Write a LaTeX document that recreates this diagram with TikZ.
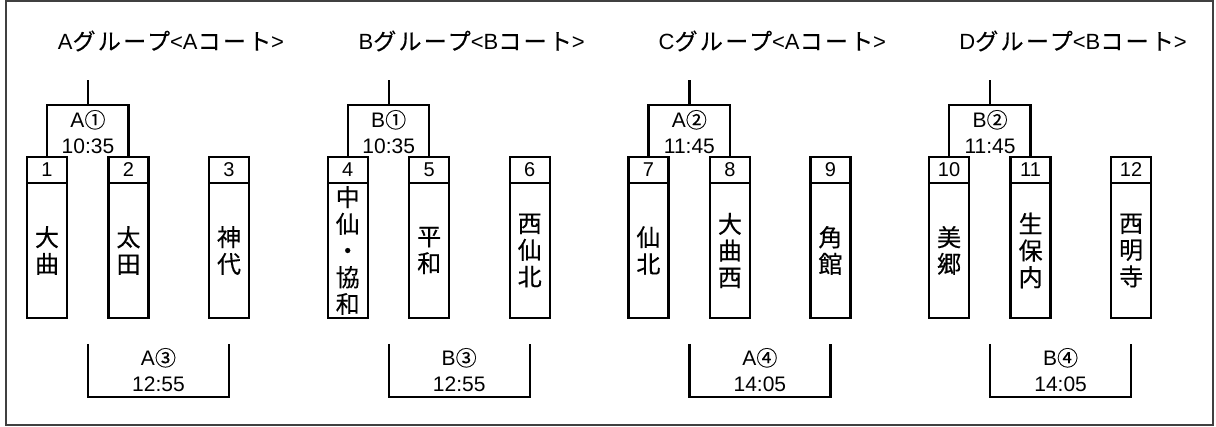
\documentclass[tikz,border=0pt]{standalone}
\usepackage{fontspec}
\setmainfont{Liberation Sans}
\newfontfamily\jp[FakeBold=0.3]{Noto Sans CJK JP}
\newfontfamily\jpwide[FakeBold=0.3,LetterSpace=10]{Noto Sans CJK JP}
\usetikzlibrary{positioning}

\tikzset{
	frame/.style={draw=black!75, line width=1.5pt},
	bracket/.style={line width=2.3pt},
	numbox/.style={draw, line width=2.3pt, outer sep=0pt, inner sep=0pt,
		minimum width=40pt, minimum height=26pt, font=\fontsize{20}{20}\selectfont},
	namebox/.style={draw, line width=2.3pt, outer sep=0pt, inner sep=0pt,
		minimum width=40pt, minimum height=135pt, align=center,
		font=\jp\fontsize{24}{26.7}\selectfont},
	matchlabel/.style={align=center, inner sep=0pt, font=\fontsize{21}{26}\selectfont},
	grouptitle/.style={inner sep=0pt, font=\fontsize{22}{24}\selectfont}
}
\newcommand{\kana}[1]{{\jpwide\fontsize{23}{24}\selectfont #1}}
\newcommand{\maru}[1]{{\jp #1}}

\begin{document}
\begin{tikzpicture}[x=1pt,y=-1pt]
	\useasboundingbox (0,0) rectangle (1216,427);
	% outer frame
	\draw[frame] (6,1) rectangle (1213,425);
	% one block per group
	\foreach \g/\grp/\upper/\lower/\sa/\sb/\sc in {
			0/{A\kana{グループ}<A\kana{コート}>}/{A\maru{①}\\10:35}/{A\maru{③}\\12:55}/{大\\曲}/{太\\田}/{神\\代},
			1/{B\kana{グループ}<B\kana{コート}>}/{B\maru{①}\\10:35}/{B\maru{③}\\12:55}/{中\\仙\\・\\協\\和}/{平\\和}/{西\\仙\\北},
			2/{C\kana{グループ}<A\kana{コート}>}/{A\maru{②}\\11:45}/{A\maru{④}\\14:05}/{仙\\北}/{大\\曲\\西}/{角\\館},
			3/{D\kana{グループ}<B\kana{コート}>}/{B\maru{②}\\11:45}/{B\maru{④}\\14:05}/{美\\郷}/{生\\保\\内}/{西\\明\\寺}}{
		\pgfmathtruncatemacro\ka{3*\g+1}
		\pgfmathtruncatemacro\kb{3*\g+2}
		\pgfmathtruncatemacro\kc{3*\g+3}
		\begin{scope}[xshift={\g*300.7pt}]
			% title
			\node[grouptitle] (title\g) at (171,41) {\grp};
			% teams
			\node[numbox] (num\g a) at (47,170) {\ka};
			\node[numbox] (num\g b) at (128.5,170) {\kb};
			\node[numbox] (num\g c) at (229,170) {\kc};
			\node[namebox, below=0pt of num\g a] (team\g a) {\sa};
			\node[namebox, below=0pt of num\g b] (team\g b) {\sb};
			\node[namebox, below=0pt of num\g c] (team\g c) {\sc};
			% first match
			\coordinate (hub\g) at (88,105);
			\coordinate (feed\g) at (88,80);
			\draw[bracket] (num\g a.north) |- (hub\g) -| (num\g b.north);
			\draw[bracket] (hub\g) -- (feed\g);
			\node[matchlabel] (first\g) at (88,132) {\upper};
			% second match
			\coordinate (finL\g) at (88,344);
			\coordinate (finR\g) at (229,344);
			\coordinate (base\g) at (158.5,397);
			\draw[bracket] (finL\g) |- (base\g) -| (finR\g);
			\node[matchlabel] (second\g) at (158.5,370) {\lower};
		\end{scope}
	}
\end{tikzpicture}
\end{document}
